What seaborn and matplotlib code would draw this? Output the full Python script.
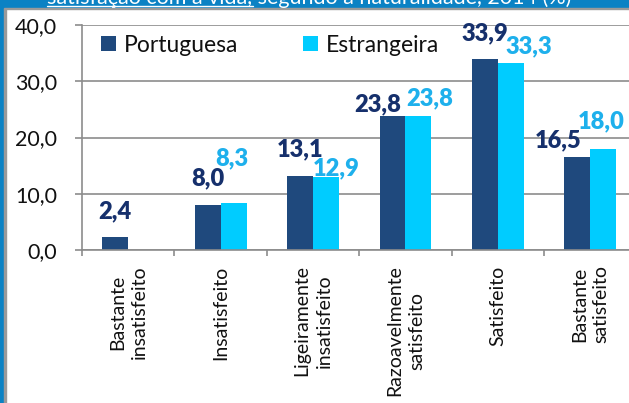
import numpy as np
import pandas as pd
import seaborn as sns
import matplotlib.pyplot as plt
from matplotlib.patches import Rectangle

sns.set_style("white")
plt.rcParams['font.family'] = ['Lato', 'DejaVu Sans']

# data
categories = ["Bastante\ninsatisfeito", "Insatisfeito", "Ligeiramente\ninsatisfeito",
              "Razoavelmente\nsatisfeito", "Satisfeito", "Bastante\nsatisfeito"]
portuguesa = [2.4, 8.0, 13.1, 23.8, 33.9, 16.5]
estrangeira = [np.nan, 8.3, 12.9, 23.8, 33.3, 18.0]
series_names = ["Portuguesa", "Estrangeira"]
y_ticks = [0, 10, 20, 30, 40]
title_text = "satisfação com a vida, segundo a naturalidade, 2014 (%)"

# label nudges in pixels (dx, dy) - placed by hand like in the original
offs_pt = [(0, 18), (0, 20), (0, 19.6), (-15, 4.4), (0, 19), (-19, 9.5)]
offs_es = [(0, 0), (-2, 38), (10.7, 2.4), (11, 11), (17.7, 9.4), (-1.6, 20.4)]

bar_colors = ["#1f497d", "#00ccff"]
label_colors = ["#16306c", "#1eb0ec"]
grid_grey = "#8c8c8c"

df = pd.DataFrame({
    "categoria": categories * 2,
    "valor": portuguesa + estrangeira,
    "naturalidade": [series_names[0]] * 6 + [series_names[1]] * 6,
})

W, H = 629, 403
fig = plt.figure(figsize=(W / 100, H / 100), dpi=100)
fig.patch.set_facecolor("white")

# frame: blue band on top and left edge
fig.patches.append(Rectangle((0, 0), 4 / W, 1, transform=fig.transFigure, color="#0b82c4", zorder=0))
fig.patches.append(Rectangle((4 / W, 0), 2 / W, 1, transform=fig.transFigure, color="#9a9a9a", zorder=0))
fig.patches.append(Rectangle((0, 1 - 7.5 / H), 1, 7.5 / H, transform=fig.transFigure, color="#0b82c4", zorder=0))
fig.patches.append(Rectangle((4 / W, 1 - 8.8 / H), 1, 1.3 / H, transform=fig.transFigure, color="#9a9a9a", zorder=0))
fig.text(47 / W, 1 - 4 / H, title_text, color="white", fontsize=15.5, va="baseline", ha="left")
fig.lines.append(plt.Line2D([47 / W, 253 / W], [1 - 5.5 / H, 1 - 5.5 / H], transform=fig.transFigure,
                            color="white", lw=1.0))

ax = fig.add_axes([82 / W, (H - 250) / H, (636.5 - 82) / W, 225 / H])
sns.barplot(data=df, x="categoria", y="valor", hue="naturalidade", palette=bar_colors,
            width=0.56, gap=0, saturation=1, ax=ax, legend=True)

ax.set_ylim(0, 40)
ax.set_xlim(-0.5, len(categories) - 0.5)
ax.set_yticks(y_ticks)
ax.set_yticklabels([f"{v:.1f}".replace(".", ",") for v in y_ticks], fontsize=15.5, color="#111111")
ax.set_xticks(range(len(categories)))
ax.set_xticklabels(categories, rotation=90, fontsize=14, color="#111111",
                   va="top", ha="center", multialignment="center", linespacing=1.35)
ax.set_xticks(np.arange(-0.5, len(categories), 1), minor=True)
ax.tick_params(axis="x", which="major", length=0, pad=11)
ax.tick_params(axis="x", which="minor", length=4, color=grid_grey, width=1.2, direction="out", bottom=True)
ax.tick_params(axis="y", length=5, color=grid_grey, width=1.2, pad=13, left=True)
ax.set_xlabel("")
ax.set_ylabel("")
ax.yaxis.grid(True, color=grid_grey, lw=1.2)
ax.set_axisbelow(True)
sns.despine(ax=ax, top=True, right=True)
for s in ["left", "bottom"]:
    ax.spines[s].set_color(grid_grey)
    ax.spines[s].set_linewidth(1.2)
for p in ax.patches:
    p.set_edgecolor("none")

# data labels - match each bar to its category by position
for cont, vals, offs, col in zip(ax.containers, [portuguesa, estrangeira], [offs_pt, offs_es], label_colors):
    for bar in cont:
        xc = bar.get_x() + bar.get_width() / 2
        i = int(round(xc))
        v = vals[i]
        if np.isnan(v):
            continue
        dx, dy = offs[i]
        ax.annotate(f"{v:.1f}".replace(".", ","), (xc, v),
                    xytext=(dx, dy), textcoords="offset pixels", ha="center", va="baseline",
                    fontsize=17, fontweight="heavy", color=col, annotation_clip=False)

leg = ax.legend(loc="center left", bbox_to_anchor=(10 / (636.5 - 82), 1 - 20 / 225), ncol=2,
                frameon=False, fontsize=16.5, handlelength=0.65, handleheight=0.65,
                handletextpad=0.35, columnspacing=2.8, borderaxespad=0)
for txt in leg.get_texts():
    txt.set_color("#111111")

fig.savefig("out.png", dpi=100, facecolor="white")
